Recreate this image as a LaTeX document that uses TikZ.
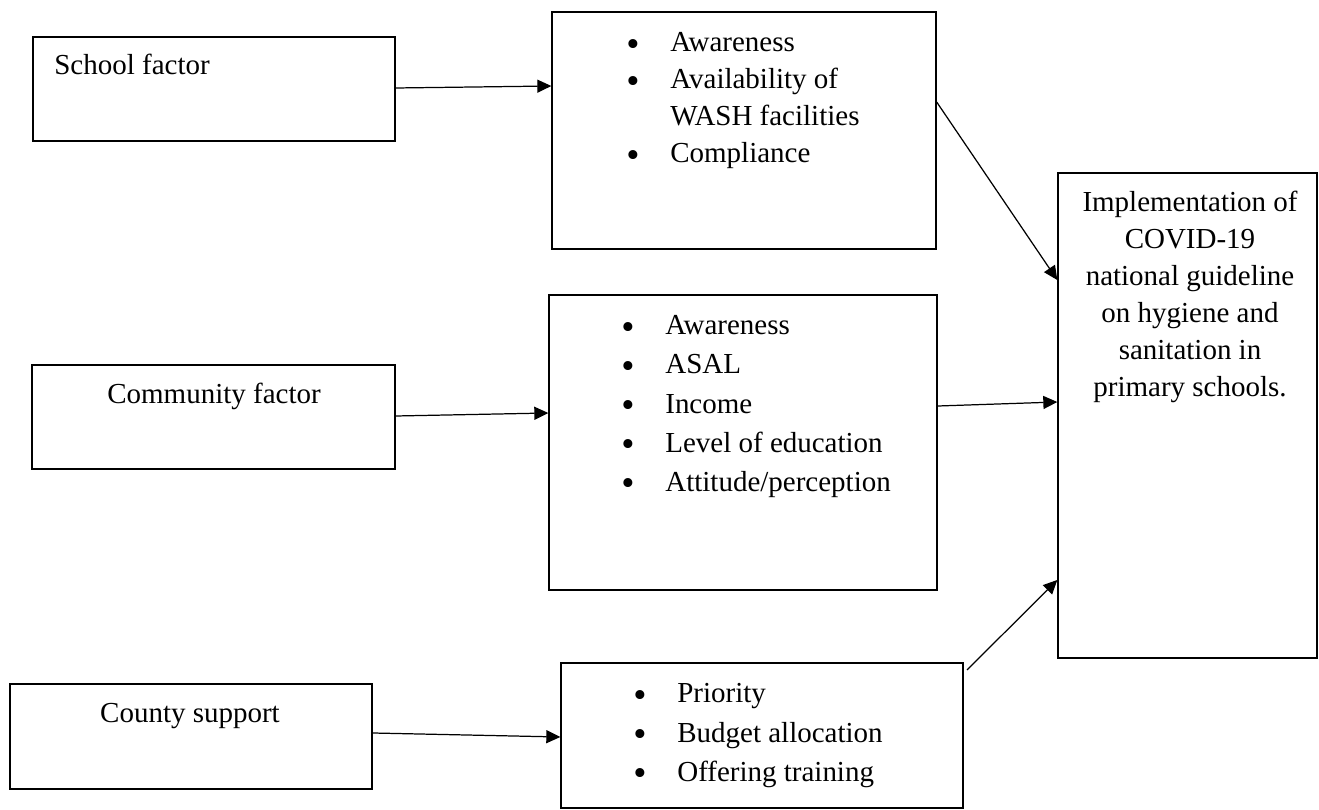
\documentclass[tikz,border=0pt]{standalone}
\usepackage{fontspec}
\setmainfont{Liberation Serif}
\usetikzlibrary{arrows.meta}

\tikzset{
  factbox/.style={draw, line width=0.8pt, inner sep=0pt},
  link/.style={line width=0.7pt, -{Triangle[length=0.28cm,width=0.26cm]}},
  txt/.style={inner sep=0pt, font=\fontsize{16.5}{21}\selectfont},
  widetxt/.style={inner sep=0pt, font=\fontsize{16.5}{22.2}\selectfont}
}
\newcommand{\bigdot}{\raisebox{-0.16em}{\scalebox{1.3}{\textbullet}}}

\begin{document}
\begin{tikzpicture}[x=0.02cm, y=-0.02cm]
  \useasboundingbox (0,0) rectangle (1319,810);

  % left column
  \node[factbox, minimum width=7.24cm, minimum height=2.08cm] (school) at (214,89) {};
  \node[factbox, minimum width=7.26cm, minimum height=2.08cm] (community) at (213.5,417) {};
  \node[factbox, minimum width=7.24cm, minimum height=2.10cm] (county) at (191,736.5) {};
  \node[txt, anchor=base west] (schooltxt) at (54,75) {School factor};
  \node[txt, anchor=base] (communitytxt) at (214,404) {Community factor};
  \node[txt, anchor=base] (countytxt) at (190,723) {County support};

  % middle column
  \node[factbox, minimum width=7.68cm, minimum height=4.74cm] (schoolsub) at (744,130.5) {};
  \node[factbox, minimum width=7.76cm, minimum height=5.90cm] (communitysub) at (743,442.5) {};
  \node[factbox, minimum width=8.04cm, minimum height=2.90cm] (countysub) at (762,735.5) {};
  \node[txt, anchor=base west] (schoollist) at (626,52) {\begin{tabular}[t]{@{}p{0.88cm}@{}l@{}}
    \bigdot & Awareness\\
    \bigdot & Availability of\\
            & WASH facilities\\
    \bigdot & Compliance
  \end{tabular}};
  \node[widetxt, anchor=base west] (communitylist) at (621,335) {\begin{tabular}[t]{@{}p{0.88cm}@{}l@{}}
    \bigdot & Awareness\\
    \bigdot & ASAL\\
    \bigdot & Income\\
    \bigdot & Level of education\\
    \bigdot & Attitude/perception
  \end{tabular}};
  \node[widetxt, anchor=base west] (countylist) at (633,703) {\begin{tabular}[t]{@{}p{0.88cm}@{}l@{}}
    \bigdot & Priority\\
    \bigdot & Budget allocation\\
    \bigdot & Offering training
  \end{tabular}};

  % outcome
  \node[factbox, minimum width=5.18cm, minimum height=9.70cm] (outcome) at (1187.5,415.5) {};
  \node[txt, anchor=base] (outcometxt) at (1190,212) {\begin{tabular}[t]{@{}c@{}}
    Implementation of\\
    COVID-19\\
    national guideline\\
    on hygiene and\\
    sanitation in\\
    primary schools.
  \end{tabular}};

  % arrows
  \draw[link] ([yshift=0.02cm]school.east) -- ([yshift=0.89cm]schoolsub.west);
  \draw[link] ([yshift=0.02cm]community.east) -- ([yshift=0.59cm]communitysub.west);
  \draw[link] ([yshift=0.07cm]county.east) -- ([yshift=-0.03cm]countysub.west);
  \draw[link] ([yshift=0.57cm]schoolsub.east) -- ([yshift=2.71cm]outcome.west);
  \draw[link] ([yshift=0.73cm]communitysub.east) -- ([yshift=0.27cm]outcome.west);
  \coordinate (countyout) at (967,670);
  \draw[link] (countyout) -- ([yshift=-3.29cm]outcome.west);
\end{tikzpicture}
\end{document}
